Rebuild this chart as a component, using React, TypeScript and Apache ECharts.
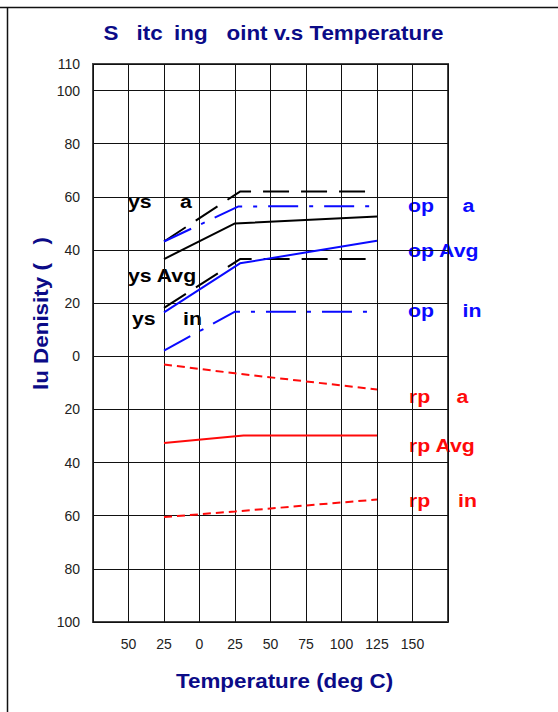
import React, { useEffect, useRef } from 'react';
import * as echarts from 'echarts';

// x: temperature (deg C), y: density
const hysMax: number[][] = [[-25, 43.2], [28.5, 62.0], [125, 62.0]];
const hysAvg: number[][] = [[-25, 36.6], [25, 50.0], [125, 52.6]];
const hysMin: number[][] = [[-25, 18.2], [28.5, 36.6], [125, 36.6]];
const opMax: number[][] = [[-25, 43.2], [27.5, 56.4], [125, 56.5]];
const opAvg: number[][] = [[-25, 16.5], [28.5, 35.0], [125, 43.5]];
const opMin: number[][] = [[-25, 2.1], [25, 16.8], [125, 16.8]];
const rpMax: number[][] = [[-25, -3.1], [25, -6.4], [125, -12.5]];
const rpAvg: number[][] = [[-25, -32.6], [31, -29.8], [125, -29.8]];
const rpMin: number[][] = [[-25, -60.5], [25, -58.4], [125, -53.9]];

const xTickHidden = [-75, 175];

const NAVY = '#0b0b87';
const BLUE = '#0a0aff';
const RED = '#ff0a0a';
const FONT = 'Liberation Sans, Arial, sans-serif';
const SX = 1.12;

// x = left edge, y = baseline
function label(text: string, x: number, y: number, fill: string, size = 19) {
  return {
    type: 'text',
    x,
    y: y - 0.82 * size,
    scaleX: SX,
    silent: true,
    style: {
      text,
      x: 0,
      y: 0,
      fill,
      font: `bold ${size}px ${FONT}`,
      textAlign: 'left',
    },
  };
}

export default function App() {
  const ref = useRef<HTMLDivElement>(null);
  useEffect(() => {
    if (!ref.current) return;
    const chart = echarts.init(ref.current, undefined, { renderer: 'svg' });
    const line = (name: string, data: number[][], color: string, type: any) => ({
      name,
      type: 'line',
      data,
      symbol: 'none',
      showSymbol: false,
      lineStyle: { color, width: 2, type },
      itemStyle: { color },
      z: 3,
    });
    const longDash = [26, 12];
    const dashDot = [30, 11, 4, 11];
    const shortDash = [8, 5];
    chart.setOption({
      animation: false,
      backgroundColor: '#fff',
      grid: {
        left: 93,
        top: 64,
        width: 355,
        height: 558,
        show: true,
        borderColor: '#444',
        borderWidth: 2,
        backgroundColor: 'transparent',
      },
      xAxis: {
        type: 'value',
        min: -75,
        max: 175,
        interval: 25,
        axisLine: { show: false },
        axisTick: { show: false },
        splitLine: { show: true, lineStyle: { color: '#111', width: 1 } },
        axisLabel: {
          margin: 15,
          fontSize: 14,
          fontFamily: FONT,
          color: '#222',
          formatter: (v: number) => (xTickHidden.includes(v) ? '' : String(Math.abs(v))),
        },
      },
      yAxis: {
        type: 'value',
        min: -100,
        max: 110,
        interval: 20,
        axisLine: { show: false },
        axisTick: { show: false },
        splitLine: { show: true, lineStyle: { color: '#111', width: 1 } },
        axisLabel: {
          margin: 13,
          fontSize: 14,
          fontFamily: FONT,
          color: '#222',
          showMaxLabel: true,
          formatter: (v: number) => String(Math.abs(v)),
        },
      },
      series: [
        line('Hys Max', hysMax, '#000', longDash),
        line('Hys Avg', hysAvg, '#000', 'solid'),
        line('Hys Min', hysMin, '#000', longDash),
        line('Op Max', opMax, BLUE, dashDot),
        line('Op Avg', opAvg, BLUE, 'solid'),
        line('Op Min', opMin, BLUE, dashDot),
        line('Rp Max', rpMax, RED, shortDash),
        line('Rp Avg', rpAvg, RED, 'solid'),
        line('Rp Min', rpMin, RED, shortDash),
      ],
      graphic: [
        { type: 'line', shape: { x1: 0, y1: 7.5, x2: 558, y2: 7.5 }, style: { stroke: '#111', lineWidth: 1.5 } },
        { type: 'line', shape: { x1: 7.5, y1: 7.5, x2: 7.5, y2: 712 }, style: { stroke: '#111', lineWidth: 1.5 } },
        // title
        label('S', 103.5, 39, NAVY, 20),
        label('itc', 136.5, 39, NAVY, 20),
        label('ing', 174, 39, NAVY, 20),
        label('oint v.s Temperature', 226.5, 39, NAVY, 20),
        // x axis name
        label('Temperature (deg C)', 176, 687, NAVY, 20),
        // y axis name (rotated)
        {
          type: 'text',
          x: 31,
          y: 390,
          rotation: Math.PI / 2,
          scaleX: SX,
          silent: true,
          style: {
            text: 'lu Denisity (\u00a0\u00a0\u00a0)',
            x: 0,
            y: 0,
            fill: NAVY,
            font: `bold 20px ${FONT}`,
            textAlign: 'left',
          },
        },
        // black labels
        label('ys', 128, 207.5, '#000'),
        label('a', 180, 207.5, '#000'),
        label('ys Avg', 128, 281, '#000'),
        label('ys', 132, 324, '#000'),
        label('in', 183, 324, '#000'),
        // blue labels
        label('op', 408, 211.5, BLUE),
        label('a', 462.5, 211.5, BLUE),
        label('op Avg', 408, 256, BLUE),
        label('op', 408, 316.5, BLUE),
        label('in', 462.5, 316.5, BLUE),
        // red labels
        label('rp', 409, 402, RED),
        label('a', 456.5, 402, RED),
        label('rp Avg', 409, 451.5, RED),
        label('rp', 409, 506.5, RED),
        label('in', 458, 506.5, RED),
      ],
    });
    return () => chart.dispose();
  }, []);
  return (
    <div
      ref={ref}
      style={{ position: 'fixed', left: 0, top: 0, width: 558, height: 712 }}
    />
  );
}
